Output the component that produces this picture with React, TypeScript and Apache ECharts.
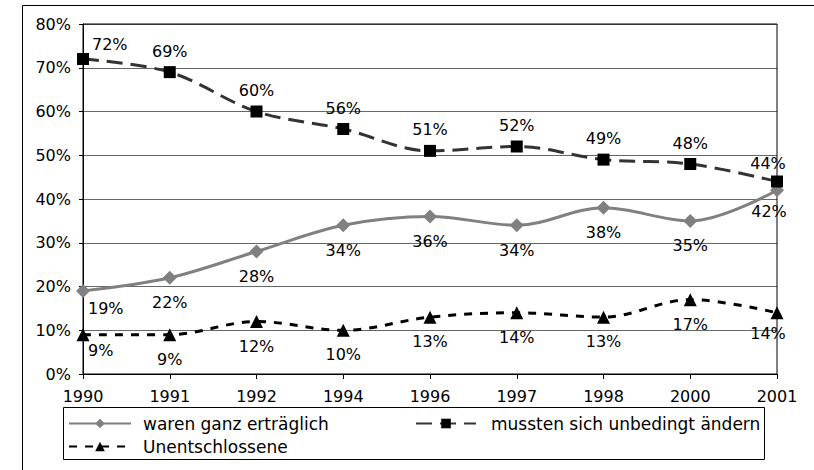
import React, { useEffect, useRef } from "react";
import * as echarts from "echarts";

const years = ["1990", "1991", "1992", "1994", "1996", "1997", "1998", "2000", "2001"];
const erträglich = [19, 22, 28, 34, 36, 34, 38, 35, 42];
const ändern = [72, 69, 60, 56, 51, 52, 49, 48, 44];
const unentschlossen = [9, 9, 12, 10, 13, 14, 13, 17, 14];
const yTicks = { min: 0, max: 80, interval: 10 };

const FONT = "DejaVu Sans";

function withLabelTweaks(values: number[], first: any, last: any) {
  return values.map((v, i) => {
    if (i === 0) return { value: v, label: first };
    if (i === values.length - 1) return { value: v, label: last };
    return v;
  });
}

export default function App() {
  const ref = useRef<HTMLDivElement>(null);
  useEffect(() => {
    document.body.style.margin = "0";
    const chart = echarts.init(ref.current!, null, { renderer: "svg" });
    const labelBase = {
      show: true,
      color: "#000",
      fontFamily: FONT,
      fontSize: 16,
      formatter: "{c}%",
    };
    chart.setOption({
      animation: false,
      backgroundColor: "#fff",
      textStyle: { fontFamily: FONT },
      grid: { left: 83, right: 37, top: 24, bottom: 96, containLabel: false },
      xAxis: {
        type: "category",
        data: years,
        boundaryGap: false,
        axisLine: { lineStyle: { color: "#000", width: 1 } },
        axisTick: { show: true, length: 5, lineStyle: { color: "#000" } },
        axisLabel: { color: "#000", fontSize: 16, fontFamily: FONT, margin: 14 },
        splitLine: { show: false },
      },
      yAxis: {
        type: "value",
        min: yTicks.min,
        max: yTicks.max,
        interval: yTicks.interval,
        axisLine: { show: true, lineStyle: { color: "#000", width: 1 } },
        axisTick: { show: true, length: 4, lineStyle: { color: "#000" } },
        axisLabel: { color: "#000", fontSize: 16, fontFamily: FONT, margin: 12, formatter: "{value}%" },
        splitLine: { show: true, lineStyle: { color: "#666", width: 1 } },
      },
      graphic: [
        { type: "line", shape: { x1: 22.5, y1: 5.5, x2: 814, y2: 5.5 }, style: { stroke: "#000", lineWidth: 1 } },
        { type: "line", shape: { x1: 22.5, y1: 5.5, x2: 22.5, y2: 470 }, style: { stroke: "#000", lineWidth: 1 } },
        { type: "rect", z: 1, shape: { x: 83, y: 24, width: 694, height: 350 }, style: { stroke: "#000", fill: "none", lineWidth: 1 } },
        { type: "rect", shape: { x: 63.5, y: 407.5, width: 701, height: 52 }, style: { stroke: "#000", fill: "none", lineWidth: 1 } },
      ],
      legend: [
        {
          data: ["waren ganz erträglich", "Unentschlossene"],
          orient: "vertical",
          left: 68,
          top: 414,
          padding: 0,
          itemWidth: 62,
          itemHeight: 12,
          itemGap: 4,
          selectedMode: false,
          textStyle: { color: "#000", fontSize: 17, fontFamily: FONT, lineHeight: 19, padding: [0, 0, 0, 7] },
        },
        {
          data: ["mussten sich unbedingt ändern"],
          orient: "vertical",
          left: 415,
          top: 414,
          padding: 0,
          itemWidth: 60,
          itemHeight: 12,
          selectedMode: false,
          textStyle: { color: "#000", fontSize: 17, fontFamily: FONT, lineHeight: 19, padding: [0, 0, 0, 10] },
        },
      ],
      series: [
        {
          name: "waren ganz erträglich",
          type: "line",
          smooth: 0.35,
          data: withLabelTweaks(
            erträglich,
            { align: "left", offset: [5, -7] },
            { offset: [-8, -4] }
          ),
          symbol: "diamond",
          symbolSize: 14,
          itemStyle: { color: "#808080" },
          lineStyle: { color: "#808080", width: 3 },
          label: { ...labelBase, position: "bottom", distance: 10 },
          z: 3,
        },
        {
          name: "mussten sich unbedingt ändern",
          type: "line",
          smooth: 0.35,
          data: withLabelTweaks(
            ändern,
            { align: "left", offset: [9, 6] },
            { offset: [-9, 3] }
          ),
          symbol: "rect",
          symbolSize: 12,
          itemStyle: { color: "#000" },
          lineStyle: { color: "#333", width: 3, type: [16, 8] },
          label: { ...labelBase, position: "top", distance: 7 },
          z: 4,
        },
        {
          name: "Unentschlossene",
          type: "line",
          smooth: 0.35,
          data: withLabelTweaks(
            unentschlossen,
            { align: "left", offset: [5, -9] },
            { offset: [-9, -4] }
          ),
          symbol: "triangle",
          symbolSize: 13,
          itemStyle: { color: "#000" },
          lineStyle: { color: "#000", width: 3, type: [8, 8] },
          label: { ...labelBase, position: "bottom", distance: 10 },
          z: 3,
        },
      ],
    });
    return () => chart.dispose();
  }, []);
  return <div ref={ref} style={{ width: 814, height: 470, position: "absolute", left: 0, top: 0 }} />;
}
